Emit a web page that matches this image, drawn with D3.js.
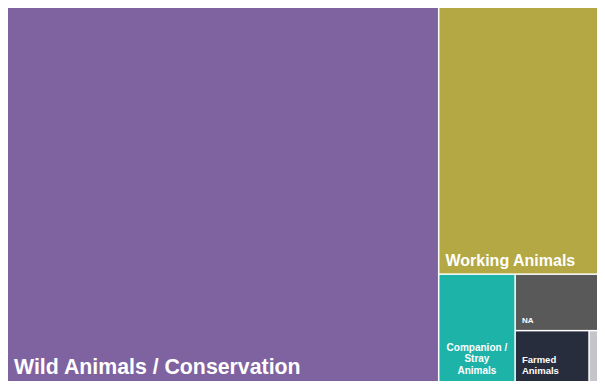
<!DOCTYPE html>
<html>
<head>
<meta charset="utf-8">
<script src="https://cdn.jsdelivr.net/npm/d3@7"></script>
<style>
  body { margin: 0; background: #fff; }
  text { font-family: "Liberation Sans", Arial, sans-serif; font-weight: bold; fill: #fff; }
</style>
</head>
<body>
<div id="chart"></div>
<script>
var margin = {top: 8, right: 8, bottom: 9, left: 8},
    width = 605 - margin.left - margin.right,
    height = 390 - margin.top - margin.bottom;

// data
const categories = ["Wild Animals / Conservation", "Working Animals", "Companion / Stray Animals", "NA", "Farmed Animals", "Other"];
const values = [727, 191, 37, 21, 17, 2];
const labelLines = [
  ["Wild Animals / Conservation"],
  ["Working Animals"],
  ["Companion /", "Stray", "Animals"],
  ["NA"],
  ["Farmed", "Animals"],
  []
];

const colors = d3.scaleOrdinal()
  .domain(categories)
  .range(["#7f63a1", "#b3a843", "#1db3a9", "#595959", "#282d3d", "#c5c4c9"]);

// label style per category: font size, anchor
const labelStyle = {
  "Wild Animals / Conservation": {size: 21.3, anchor: "start"},
  "Working Animals": {size: 16, anchor: "start"},
  "Companion / Stray Animals": {size: 10, anchor: "middle"},
  "NA": {size: 8, anchor: "start"},
  "Farmed Animals": {size: 9.5, anchor: "start"},
  "Other": {size: 8, anchor: "start"}
};

const svg = d3.select("#chart")
  .append("svg")
    .attr("width", width + margin.left + margin.right)
    .attr("height", height + margin.top + margin.bottom)
  .append("g")
    .attr("transform", "translate(" + margin.left + "," + margin.top + ")");

const root = d3.hierarchy({children: categories.map((c, i) => ({name: c, value: values[i], lines: labelLines[i]}))})
  .sum(d => d.value || 0)
  .sort((a, b) => b.value - a.value);

d3.treemap()
  .size([width, height])
  .tile(d3.treemapSquarify.ratio(1))
  .paddingInner(1.5)(root);

const cell = svg.selectAll("g.cell")
  .data(root.leaves())
  .join("g")
    .attr("class", "cell")
    .attr("transform", d => "translate(" + d.x0 + "," + d.y0 + ")");

cell.append("rect")
  .attr("width", d => d.x1 - d.x0)
  .attr("height", d => d.y1 - d.y0)
  .attr("fill", d => colors(d.data.name));

cell.each(function(d) {
  const st = labelStyle[d.data.name];
  const lines = d.data.lines;
  if (!lines.length) return;
  const w = d.x1 - d.x0, h = d.y1 - d.y0;
  const lh = st.size * 1.15;
  const x = st.anchor === "middle" ? w / 2 : 6;
  const lastBase = h - 7;
  const t = d3.select(this).append("text")
    .attr("text-anchor", st.anchor)
    .style("font-size", st.size + "px");
  lines.forEach((ln, i) => {
    t.append("tspan")
      .attr("x", x)
      .attr("y", lastBase - (lines.length - 1 - i) * lh)
      .text(ln);
  });
});
</script>
</body>
</html>
